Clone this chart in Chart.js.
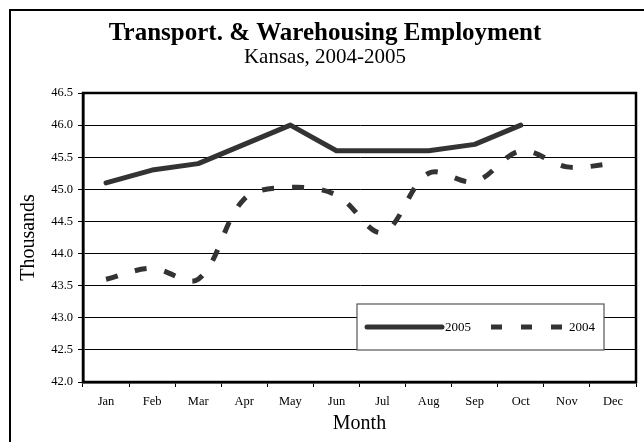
<!DOCTYPE html>
<html>
<head>
<meta charset="utf-8">
<script src="https://cdn.jsdelivr.net/npm/chart.js@4/dist/chart.umd.min.js"></script>
<style>
  body { margin: 0; background: #fff; }
  #wrap { position: relative; width: 644px; height: 442px; }
  #frame { position: absolute; left: 9px; top: 9px; right: -5px; bottom: -5px; border-left: 2px solid #000; border-top: 2px solid #000; }
  canvas { position: absolute; left: 0; top: 0; }
</style>
</head>
<body>
<div id="wrap">
  <div id="frame"></div>
  <canvas id="graphique" width="644" height="442"></canvas>
</div>
<script>
// mois
var months = ['Jan','Feb','Mar','Apr','May','Jun','Jul','Aug','Sep','Oct','Nov','Dec'];
// emploi en milliers
var values2005 = [45.1, 45.3, 45.4, 45.7, 46.0, 45.6, 45.6, 45.6, 45.7, 46.0, null, null];
var values2004 = [43.6, 43.77, 43.6, 44.85, 45.03, 44.91, 44.33, 45.25, 45.12, 45.6, 45.35, 45.4];
var yTicks = [42.0, 42.5, 43.0, 43.5, 44.0, 44.5, 45.0, 45.5, 46.0, 46.5];

var serif = "'Liberation Serif', 'DejaVu Serif', serif";

// cadre du graphique + légende dans la zone
var boxPlugin = {
    id: 'boxPlugin',
    afterDraw: function(chart) {
        var ctx = chart.ctx;
        var a = chart.chartArea;
        ctx.save();
        ctx.strokeStyle = '#000';
        ctx.lineWidth = 2.5;
        ctx.strokeRect(a.left, a.top, a.right - a.left, a.bottom - a.top);

        // légende
        var x0 = 357, y0 = 304, w = 247, h = 46;
        ctx.fillStyle = '#fff';
        ctx.fillRect(x0, y0, w, h);
        ctx.strokeStyle = '#555';
        ctx.lineWidth = 1.2;
        ctx.strokeRect(x0, y0, w, h);
        var ds = chart.data.datasets;
        var cy = y0 + 23;
        ctx.font = "13px " + serif;
        ctx.textBaseline = 'middle';
        ctx.textAlign = 'left';

        ctx.strokeStyle = ds[0].borderColor;
        ctx.lineWidth = ds[0].borderWidth;
        ctx.lineCap = 'round';
        ctx.beginPath();
        ctx.moveTo(367, cy);
        ctx.lineTo(442, cy);
        ctx.stroke();
        ctx.fillStyle = '#000';
        ctx.fillText(ds[0].label, 445, cy + 1);

        ctx.strokeStyle = ds[1].borderColor;
        ctx.lineWidth = ds[1].borderWidth;
        ctx.lineCap = 'butt';
        ctx.setLineDash([11, 19]);
        ctx.beginPath();
        ctx.moveTo(491, cy);
        ctx.lineTo(565, cy);
        ctx.stroke();
        ctx.setLineDash([]);
        ctx.fillText(ds[1].label, 569, cy + 1);
        ctx.restore();
    }
};

var ctx = document.getElementById('graphique').getContext('2d');
var graphique = new Chart(ctx, {
    type: 'line',
    data: {
        labels: months,
        datasets: [
            {
                label: '2005',
                data: values2005,
                borderColor: '#333',
                backgroundColor: '#333',
                borderWidth: 5,
                borderCapStyle: 'round',
                borderJoinStyle: 'round',
                pointRadius: 0,
                tension: 0
            },
            {
                label: '2004',
                data: values2004,
                borderColor: '#333',
                backgroundColor: '#333',
                borderWidth: 5,
                borderDash: [12, 18],
                pointRadius: 0,
                tension: 0.35
            }
        ]
    },
    options: {
        responsive: false,
        animation: false,
        layout: {
            padding: { left: 14, right: 8, top: 0, bottom: 6 }
        },
        plugins: {
            legend: { display: false },
            tooltip: { enabled: false },
            title: {
                display: true,
                text: 'Transport. & Warehousing Employment',
                color: '#000',
                font: { family: serif, size: 25, weight: 'bold', lineHeight: 1.0 },
                padding: { top: 21, bottom: 0 }
            },
            subtitle: {
                display: true,
                text: 'Kansas, 2004-2005',
                color: '#000',
                font: { family: serif, size: 21, lineHeight: 1.0 },
                padding: { top: 1, bottom: 25 }
            }
        },
        scales: {
            x: {
                offset: true,
                grid: {
                    offset: true,
                    drawOnChartArea: false,
                    drawTicks: true,
                    tickLength: 5,
                    color: '#000'
                },
                border: { display: true, color: '#000', width: 2.5 },
                ticks: {
                    color: '#000',
                    font: { family: serif, size: 12.5 },
                    padding: 7,
                    maxRotation: 0
                },
                title: {
                    display: true,
                    text: 'Month',
                    color: '#000',
                    font: { family: serif, size: 20 },
                    padding: 0
                },
                afterFit: function(scale) { scale.height = 54; }
            },
            y: {
                min: 42,
                max: 46.5,
                afterBuildTicks: function(scale) {
                    scale.ticks = yTicks.map(function(v) { return { value: v }; });
                },
                grid: {
                    color: '#000',
                    lineWidth: 1,
                    drawTicks: true,
                    tickLength: 5
                },
                border: { display: true, color: '#000', width: 2.5 },
                ticks: {
                    color: '#000',
                    font: { family: serif, size: 12.5 },
                    padding: 5,
                    callback: function(v) { return Number(v).toFixed(1); }
                },
                title: {
                    display: true,
                    text: 'Thousands',
                    color: '#000',
                    font: { family: serif, size: 20 },
                    padding: { top: 3, bottom: 0 }
                },
                afterFit: function(scale) { scale.width = 69; }
            }
        }
    },
    plugins: [boxPlugin]
});
</script>
</body>
</html>
